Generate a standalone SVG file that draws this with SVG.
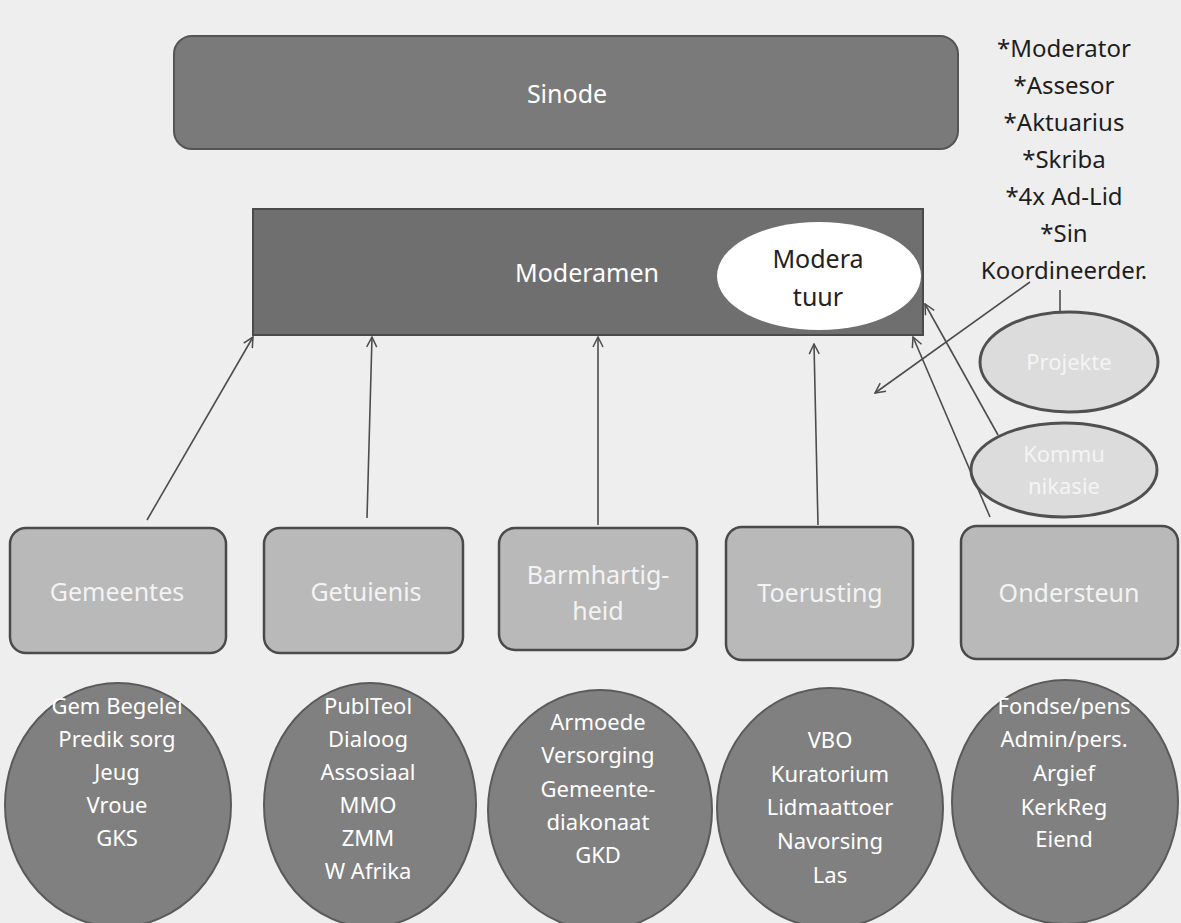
<svg xmlns="http://www.w3.org/2000/svg" width="1181" height="923" viewBox="0 0 1181 923">
<style>
text{font-family:"Noto Sans","Open Sans",sans-serif;text-anchor:middle}
.top{fill:#7a7a7a;stroke:#555;stroke-width:2}
.mod{fill:#6f6f6f;stroke:#4a4a4a;stroke-width:2}
.box{fill:#b9b9b9;stroke:#4a4a4a;stroke-width:2.5}
.circ{fill:#808080;stroke:#5a5a5a;stroke-width:2}
.side{fill:#dcdcdc;stroke:#505050;stroke-width:3}
.wt{fill:#ffffff;font-size:25px}
.bt{fill:#f3f3f3;font-size:25px}
.ct{fill:#ffffff;font-size:22px}
.st{fill:#f4f4f4;font-size:22px}
.dk{fill:#222;font-size:25px}
.ls{fill:#1e1e1e;font-size:24px}
.arr{stroke:#4d4d4d;stroke-width:1.6;fill:none;marker-end:url(#ah)}
.ln{stroke:#4d4d4d;stroke-width:1.6;fill:none}
</style>
<defs>
<marker id="ah" markerUnits="userSpaceOnUse" viewBox="0 0 12 12" markerWidth="12" markerHeight="12" refX="11" refY="6" orient="auto">
<path d="M1,1 L11,6 L1,11" fill="none" stroke="#4d4d4d" stroke-width="1.5"/>
</marker>
</defs>
<rect width="1181" height="923" fill="#eeeeee"/>

<g id="sinode">
<rect class="top" x="174" y="36" width="784" height="113" rx="18"/>
<text class="wt" x="567" y="103">Sinode</text>
</g>

<g id="moderamen">
<rect class="mod" x="253" y="209" width="670" height="126"/>
<text class="wt" x="587" y="282">Moderamen</text>
</g>

<g id="moderatuur">
<ellipse cx="819" cy="276" rx="102" ry="54" fill="#ffffff"/>
<text class="dk" x="818" y="268">Modera</text>
<text class="dk" x="818" y="306">tuur</text>
</g>

<g id="lede">
<text class="ls" x="1064" y="57">*Moderator</text>
<text class="ls" x="1064" y="94">*Assesor</text>
<text class="ls" x="1064" y="131">*Aktuarius</text>
<text class="ls" x="1064" y="168">*Skriba</text>
<text class="ls" x="1064" y="205">*4x Ad-Lid</text>
<text class="ls" x="1064" y="242">*Sin</text>
<text class="ls" x="1064" y="279">Koordineerder.</text>
</g>

<g id="projekte">
<ellipse class="side" cx="1069" cy="362" rx="89" ry="50"/>
<text class="st" x="1069" y="370">Projekte</text>
</g>

<g id="kommunikasie">
<ellipse class="side" cx="1064" cy="470" rx="93" ry="47"/>
<text class="st" x="1064" y="462">Kommu</text>
<text class="st" x="1064" y="494">nikasie</text>
</g>

<g id="gemeentes">
<rect class="box" x="10" y="528" width="216" height="125" rx="16"/>
<text class="bt" x="117" y="601">Gemeentes</text>
</g>
<g id="getuienis">
<rect class="box" x="264" y="528" width="199" height="125" rx="16"/>
<text class="bt" x="366" y="601">Getuienis</text>
</g>
<g id="barmhartigheid">
<rect class="box" x="499" y="528" width="198" height="122" rx="16"/>
<text class="bt" x="598" y="584">Barmhartig-</text>
<text class="bt" x="598" y="620">heid</text>
</g>
<g id="toerusting">
<rect class="box" x="726" y="527" width="187" height="133" rx="16"/>
<text class="bt" x="820" y="602">Toerusting</text>
</g>
<g id="ondersteun">
<rect class="box" x="961" y="526" width="217" height="133" rx="16"/>
<text class="bt" x="1069" y="602">Ondersteun</text>
</g>

<g id="c-gemeentes">
<ellipse class="circ" cx="118" cy="805" rx="113" ry="122"/>
<text class="ct" x="117" y="714">Gem Begelei</text>
<text class="ct" x="117" y="747">Predik sorg</text>
<text class="ct" x="117" y="780">Jeug</text>
<text class="ct" x="117" y="813">Vroue</text>
<text class="ct" x="117" y="846">GKS</text>
</g>
<g id="c-getuienis">
<ellipse class="circ" cx="370" cy="805" rx="106" ry="122"/>
<text class="ct" x="368" y="714">PublTeol</text>
<text class="ct" x="368" y="747">Dialoog</text>
<text class="ct" x="368" y="780">Assosiaal</text>
<text class="ct" x="368" y="813">MMO</text>
<text class="ct" x="368" y="846">ZMM</text>
<text class="ct" x="368" y="879">W Afrika</text>
</g>
<g id="c-barmhartigheid">
<ellipse class="circ" cx="600" cy="810" rx="112" ry="120"/>
<text class="ct" x="598" y="730">Armoede</text>
<text class="ct" x="598" y="763">Versorging</text>
<text class="ct" x="598" y="797">Gemeente-</text>
<text class="ct" x="598" y="830">diakonaat</text>
<text class="ct" x="598" y="863">GKD</text>
</g>
<g id="c-toerusting">
<ellipse class="circ" cx="830" cy="808" rx="113" ry="120"/>
<text class="ct" x="830" y="748">VBO</text>
<text class="ct" x="830" y="782">Kuratorium</text>
<text class="ct" x="830" y="815">Lidmaattoer</text>
<text class="ct" x="830" y="849">Navorsing</text>
<text class="ct" x="830" y="883">Las</text>
</g>
<g id="c-ondersteun">
<ellipse class="circ" cx="1065" cy="802" rx="113" ry="122"/>
<text class="ct" x="1064" y="714">Fondse/pens</text>
<text class="ct" x="1064" y="747">Admin/pers.</text>
<text class="ct" x="1064" y="781">Argief</text>
<text class="ct" x="1064" y="815">KerkReg</text>
<text class="ct" x="1064" y="847">Eiend</text>
</g>

<g id="connectors">
<line class="arr" x1="147" y1="520" x2="253" y2="337"/>
<line class="arr" x1="367" y1="518" x2="372" y2="337"/>
<line class="arr" x1="598" y1="525" x2="598" y2="337"/>
<line class="arr" x1="818" y1="525" x2="814" y2="344"/>
<line class="arr" x1="990" y1="517" x2="913" y2="337"/>
<line class="arr" x1="998" y1="435" x2="925" y2="304"/>
<line class="arr" x1="1030" y1="282" x2="875" y2="393"/>
<line class="ln" x1="1060" y1="290" x2="1060" y2="312"/>
</g>
</svg>
